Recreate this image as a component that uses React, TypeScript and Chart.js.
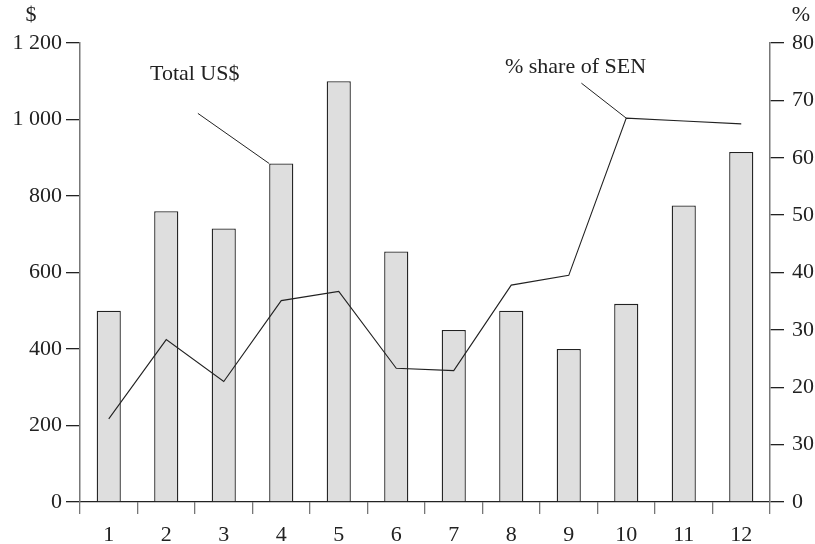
import React, { useEffect, useRef } from "react";
import { Chart, registerables } from "chart.js";

Chart.register(...registerables);

const months = ["1", "2", "3", "4", "5", "6", "7", "8", "9", "10", "11", "12"];
const totalUSD = [500, 760, 715, 885, 1100, 655, 450, 500, 400, 518, 775, 915];
const shareSEN = [14.5, 28.3, 21.0, 35.1, 36.7, 23.3, 22.9, 37.8, 39.5, 66.9, 66.4, 65.9];
const leftTickLabels = ["0", "200", "400", "600", "800", "1 000", "1 200"];
const rightTickLabels = ["0", "30", "20", "30", "40", "50", "60", "70", "80"];
const leftUnit = "$";
const rightUnit = "%";
const totalLabel = "Total US$";
const shareLabel = "% share of SEN";

const FONT = "'Liberation Serif', 'Times New Roman', serif";
const TEXT = "#222";

const annotationPlugin = {
  id: "annotations",
  afterDatasetsDraw(chart: any) {
    const { ctx, scales, chartArea } = chart;
    const x = scales.x;
    const y = scales.y;
    const y1 = scales.y1;
    const barMeta = chart.getDatasetMeta(1);
    const lineMeta = chart.getDatasetMeta(0);
    ctx.save();
    ctx.font = `22px ${FONT}`;
    ctx.fillStyle = TEXT;
    ctx.textBaseline = "alphabetic";
    ctx.textAlign = "left";
    ctx.fillText(totalLabel, x.getPixelForValue(0.717), y.getPixelForValue(1102));
    ctx.fillText(shareLabel, x.getPixelForValue(6.89), y1.getPixelForValue(74.8));

    ctx.strokeStyle = "#222";
    ctx.lineWidth = 1;
    const bar = barMeta.data[3];
    ctx.beginPath();
    ctx.moveTo(x.getPixelForValue(1.55), y.getPixelForValue(1016));
    ctx.lineTo(bar.x - bar.width / 2, bar.y);
    ctx.stroke();
    const pt = lineMeta.data[9];
    ctx.beginPath();
    ctx.moveTo(x.getPixelForValue(8.22), y1.getPixelForValue(73.0));
    ctx.lineTo(pt.x, pt.y);
    ctx.stroke();

    ctx.textAlign = "center";
    ctx.textBaseline = "middle";
    ctx.fillText(leftUnit, chartArea.left - 49, 15);
    ctx.fillText(rightUnit, chartArea.right + 31, 15);
    ctx.restore();
  },
};

export default function App() {
  const ref = useRef<HTMLCanvasElement>(null);
  useEffect(() => {
    document.body.style.margin = "0";
    const chart = new Chart(ref.current as HTMLCanvasElement, {
      type: "bar",
      data: {
        labels: months,
        datasets: [
          {
            type: "line",
            label: shareLabel,
            data: shareSEN,
            yAxisID: "y1",
            borderColor: "#222",
            borderWidth: 1.1,
            pointRadius: 0,
            tension: 0,
            fill: false,
            order: 0,
          } as any,
          {
            type: "bar",
            label: totalLabel,
            data: totalUSD,
            yAxisID: "y",
            backgroundColor: "#dedede",
            borderColor: "#222",
            borderWidth: 1.3,
            barPercentage: 0.42,
            categoryPercentage: 1,
            order: 1,
          } as any,
        ],
      },
      options: {
        responsive: false,
        animation: false,
        layout: { padding: { top: 43, left: 0, right: 0, bottom: 0 } },
        plugins: { legend: { display: false }, tooltip: { enabled: false } },
        scales: {
          x: {
            offset: true,
            grid: {
              offset: true,
              drawOnChartArea: false,
              drawTicks: true,
              tickLength: 12,
              tickColor: "#777",
              lineWidth: 1.3,
            },
            border: { display: true, color: "#222", width: 1.3 },
            ticks: { color: TEXT, font: { family: FONT, size: 22 }, padding: 8, maxRotation: 0 },
            afterFit: (s: any) => {
              s.height = 42;
            },
          },
          y: {
            position: "left",
            min: 0,
            max: 1200,
            grid: { drawOnChartArea: false, tickLength: 14, tickColor: "#222", lineWidth: 1.3 },
            border: { display: true, color: "#777", width: 1.5 },
            ticks: {
              stepSize: 200,
              color: TEXT,
              font: { family: FONT, size: 22 },
              padding: 4,
              callback: (_v: any, i: number) => leftTickLabels[i],
            },
            afterFit: (s: any) => {
              s.width = 80;
            },
          },
          y1: {
            position: "right",
            min: 0,
            max: 80,
            grid: { drawOnChartArea: false, tickLength: 14, tickColor: "#222", lineWidth: 1.3 },
            border: { display: true, color: "#777", width: 1.5 },
            ticks: {
              stepSize: 10,
              color: TEXT,
              font: { family: FONT, size: 22 },
              padding: 8,
              callback: (_v: any, i: number) => rightTickLabels[i],
            },
            afterFit: (s: any) => {
              s.width = 45;
            },
          },
        },
      },
      plugins: [annotationPlugin],
    });
    return () => chart.destroy();
  }, []);
  return (
    <div style={{ width: 815, height: 544, background: "#fff" }}>
      <canvas ref={ref} width={815} height={544} style={{ width: 815, height: 544, display: "block" }} />
    </div>
  );
}
